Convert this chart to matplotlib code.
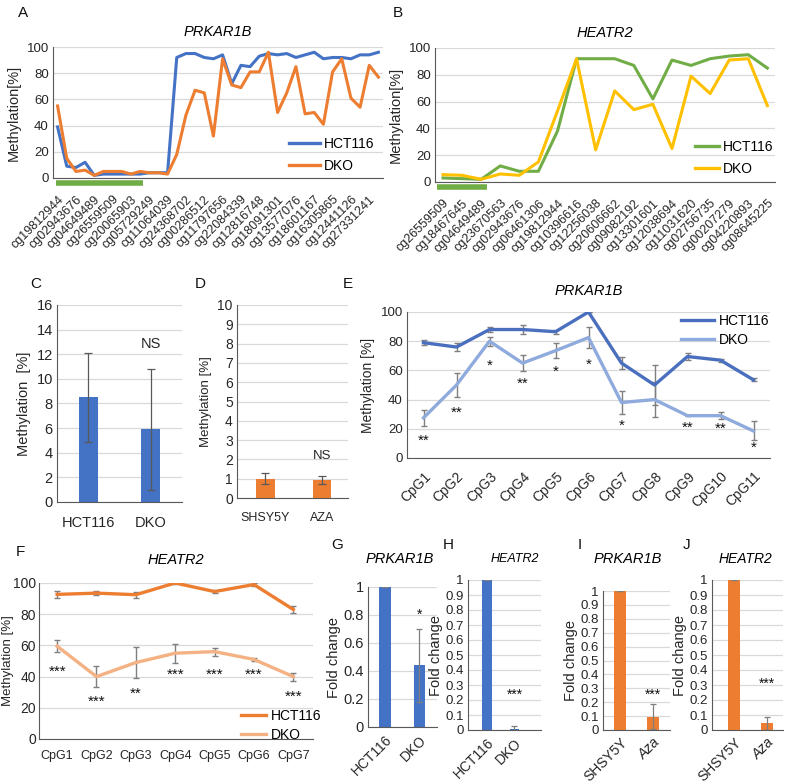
import matplotlib
matplotlib.use("Agg")
import matplotlib.pyplot as plt
from matplotlib.lines import Line2D

plt.rcParams['font.family'] = ['Liberation Sans', 'DejaVu Sans']

# ---- data ----
# A: PRKAR1B 450K probes
a_labels = ["cg19812944", "cg02943676", "cg04649489", "cg26559509", "cg20065903",
            "cg05729249", "cg11064039", "cg24368702", "cg00286512", "cg11797656",
            "cg22084339", "cg12816748", "cg18091301", "cg13577076", "cg18601167",
            "cg16305865", "cg12441126", "cg27331241"]
a_hct = [39, 9, 8, 12, 2, 3, 3, 3, 3, 3, 4, 4, 4, 92, 95, 95, 92, 91,
         94, 72, 86, 85, 93, 95, 94, 95, 92, 94, 96, 91, 92, 92, 91, 94, 94, 96]
a_dko = [55, 15, 5, 6, 2, 5, 5, 5, 3, 5, 4, 4, 3, 18, 48, 67, 65, 32,
         91, 71, 69, 81, 81, 96, 50, 65, 85, 49, 50, 41, 81, 91, 61, 54, 86, 77]

# B: HEATR2 450K probes
b_labels = ["cg26559509", "cg18467645", "cg04649489", "cg23670563", "cg02943676",
            "cg06461306", "cg19812944", "cg10396616", "cg12256038", "cg20606662",
            "cg09082192", "cg13301601", "cg12038694", "cg11031620", "cg02756735",
            "cg00207279", "cg04220893", "cg08645225"]
b_hct = [3, 2.5, 2, 12, 8, 8, 38, 92, 92, 92, 87, 62, 91, 87, 92, 94, 95, 85]
b_dko = [5.5, 5, 2, 6, 5, 15, 53, 92, 24, 68, 54, 58, 25, 79, 66, 91, 92, 57]

# C, D: bar charts
c_cats = ["HCT116", "DKO"]
c_vals = [8.5, 5.9]
c_err = [3.6, 4.9]
d_cats = ["SHSY5Y", "AZA"]
d_vals = [1.0, 0.95]
d_err = [0.3, 0.2]

# E: PRKAR1B CpGs
e_cats = ["CpG%d" % i for i in range(1, 12)]
e_hct = [79, 76, 88, 88, 86.5, 100, 65, 50, 69.5, 67, 53.5]
e_hct_err = [1.5, 3, 2, 3, 1.5, 0.3, 4, 14, 2.5, 1, 1]
e_dko = [27.5, 50, 80, 65, 73.5, 82.5, 38, 40, 29, 29, 18.5]
e_dko_err = [5.5, 8, 3, 5.5, 5, 7, 8, 12, 0.3, 2.5, 6.5]
e_stars = ["**", "**", "*", "**", "*", "*", "*", "", "**", "**", "*"]
e_star_y = [12, 31, 63, 51, 59, 64, 22, 0, 21, 20, 7]

# F: HEATR2 CpGs
f_cats = ["CpG%d" % i for i in range(1, 8)]
f_hct = [92.7, 93.5, 92.5, 100, 94.5, 99, 83]
f_hct_err = [2, 1.5, 2, 0.4, 1, 1, 2]
f_dko = [59.5, 40, 49, 55, 56, 51, 40]
f_dko_err = [4, 6.5, 10, 6, 2.5, 1, 2.5]
f_stars = ["***", "***", "**", "***", "***", "***", "***"]
f_star_y = [43, 24, 29, 41, 41, 41, 27]

# G-J: fold change
g_cats = ["HCT116", "DKO"]
g_vals = [1.0, 0.44]
g_err = [0.0, 0.26]
h_cats = ["HCT116", "DKO"]
h_vals = [1.0, 0.01]
h_err = [0.0, 0.015]
i_cats = ["SHSY5Y", "Aza"]
i_vals = [1.0, 0.095]
i_err = [0.0, 0.09]
j_cats = ["SHSY5Y", "Aza"]
j_vals = [1.0, 0.045]
j_err = [0.0, 0.045]

BLUE = "#4472C4"
LBLUE = "#8FAADC"
ORANGE = "#ED7D31"
LORANGE = "#F4B183"
GREEN = "#70AD47"
YELLOW = "#FFC000"
GRID = "#D9D9D9"
TXT = "#262626"

W, H = 787, 784
fig = plt.figure(figsize=(W / 100, H / 100), dpi=100)


def ax_px(l, t, r, b):
    return fig.add_axes([l / W, 1 - b / H, (r - l) / W, (b - t) / H])


def style(ax, fs=9):
    for s in ["top", "right"]:
        ax.spines[s].set_visible(False)
    ax.spines["left"].set_color("#595959")
    ax.spines["bottom"].set_color("#595959")
    ax.yaxis.grid(True, color=GRID, lw=0.9)
    ax.set_axisbelow(True)
    ax.tick_params(length=0, labelsize=fs, colors=TXT, pad=3)


def letter(x, y, s):
    fig.text(x / W, 1 - y / H, s, fontsize=11, va="top", ha="left", color="#111111")


def leg(ax, colors, labels, anchor, loc, hl=2.2, sp=0.6):
    hs = [Line2D([], [], color=c, lw=2.4) for c in colors]
    ax.legend(hs, labels, loc=loc, frameon=False, fontsize=10, handlelength=hl,
              bbox_to_anchor=anchor, labelspacing=sp, handletextpad=0.3,
              borderaxespad=0.2)


# ---- A ----
ax = ax_px(53, 47, 383, 178)
style(ax, 9.5)
xa = list(range(len(a_hct)))
ax.plot(xa, a_hct, color=BLUE, lw=2.2)
ax.plot(xa, a_dko, color=ORANGE, lw=2.2)
ax.set_xlim(-0.5, 35.5)
ax.set_ylim(0, 100)
ax.set_yticks(range(0, 101, 20))
ax.set_xticks(range(0, len(a_hct), 2))
ax.set_xticklabels(a_labels, rotation=45, ha="right", rotation_mode="anchor", fontsize=9)
ax.plot([-0.2, 9.3], [-4, -4], color=GREEN, lw=4, clip_on=False, solid_capstyle="butt")
ax.tick_params(axis="x", pad=11)
ax.set_ylabel("Methylation[%]", fontsize=10.5, color=TXT)
ax.set_title("PRKAR1B", fontsize=10.5, style="italic", pad=8)
leg(ax, [BLUE, ORANGE], ["HCT116", "DKO"], (1.0, -0.025), "lower right")
letter(18, 6, "A")

# ---- B ----
ax = ax_px(435, 48, 775, 182)
style(ax, 9.5)
xb = list(range(len(b_hct)))
ax.plot(xb, b_hct, color=GREEN, lw=2.2)
ax.plot(xb, b_dko, color=YELLOW, lw=2.2)
ax.set_xlim(-0.42, 17.4)
ax.set_ylim(0, 100)
ax.set_yticks(range(0, 101, 20))
ax.set_xticks(xb)
ax.set_xticklabels(b_labels, rotation=45, ha="right", rotation_mode="anchor", fontsize=9)
ax.plot([-0.3, 2.3], [-4, -4], color=GREEN, lw=4, clip_on=False, solid_capstyle="butt")
ax.tick_params(axis="x", pad=11)
ax.set_ylabel("Methylation[%]", fontsize=10.5, color=TXT)
ax.set_title("HEATR2", fontsize=10.5, style="italic", pad=8)
leg(ax, [GREEN, YELLOW], ["HCT116", "DKO"], (1.02, -0.02), "lower right", hl=1.7)
letter(393, 6, "B")

# ---- C ----
ax = ax_px(57, 305, 182, 502)
style(ax, 10.5)
ax.bar(range(2), c_vals, width=0.3, color=BLUE, yerr=c_err, capsize=3,
       error_kw=dict(ecolor="#595959", lw=0.9, capthick=0.9))
ax.set_xlim(-0.5, 1.5)
ax.set_ylim(0, 16)
ax.set_yticks(range(0, 17, 2))
ax.set_xticks(range(2))
ax.set_xticklabels(c_cats, fontsize=10.5)
ax.tick_params(axis="x", pad=10)
ax.set_ylabel("Methylation  [%]", fontsize=10.5, color=TXT)
ax.text(1, 12.3, "NS", ha="center", va="bottom", fontsize=10.5, color=TXT)
letter(30, 277, "C")

# ---- D ----
ax = ax_px(237, 305, 348, 498)
style(ax, 10)
ax.bar(range(2), d_vals, width=0.33, color=ORANGE, yerr=d_err, capsize=3,
       error_kw=dict(ecolor="#595959", lw=0.9, capthick=0.9))
ax.set_xlim(-0.5, 1.46)
ax.set_ylim(0, 10)
ax.set_yticks(range(0, 11))
ax.set_xticks(range(2))
ax.set_xticklabels(d_cats, fontsize=9)
ax.tick_params(axis="x", pad=10)
ax.set_ylabel("Methylation [%]", fontsize=9.5, color=TXT)
ax.text(1, 1.85, "NS", ha="center", va="bottom", fontsize=9.5, color=TXT)
letter(195, 277, "D")

# ---- E ----
ax = ax_px(407, 312, 770, 458)
style(ax, 9.5)
xe = list(range(len(e_cats)))
ax.errorbar(xe, e_hct, yerr=e_hct_err, color="#4A6FBE", lw=2.4, ecolor="#7F7F7F",
            elinewidth=1, capsize=2.5)
ax.errorbar(xe, e_dko, yerr=e_dko_err, color=LBLUE, lw=2.4, ecolor="#7F7F7F",
            elinewidth=1, capsize=2.5)
for x, s, y in zip(xe, e_stars, e_star_y):
    if s:
        ax.text(x, y, s, ha="center", va="center", fontsize=11, color="#111111")
ax.set_xlim(-0.5, 10.5)
ax.set_ylim(0, 100)
ax.set_yticks(range(0, 101, 20))
ax.set_xticks(xe)
ax.set_xticklabels(e_cats, rotation=45, ha="right", rotation_mode="anchor", fontsize=10)
ax.tick_params(axis="x", pad=8)
ax.set_ylabel("Methylation [%]", fontsize=10, color=TXT)
ax.set_title("PRKAR1B", fontsize=10.5, style="italic", pad=12)
leg(ax, ["#4A6FBE", LBLUE], ["HCT116", "DKO"], (1.02, 1.045), "upper right", hl=2.4, sp=0.35)
letter(343, 277, "E")

# ---- F ----
ax = ax_px(39, 583, 313, 739)
style(ax, 10)
ax.tick_params(axis="y", pad=2)
xf = list(range(len(f_cats)))
ax.errorbar(xf, f_hct, yerr=f_hct_err, color=ORANGE, lw=2.4, ecolor="#7F7F7F",
            elinewidth=1, capsize=2.5)
ax.errorbar(xf, f_dko, yerr=f_dko_err, color=LORANGE, lw=2.4, ecolor="#7F7F7F",
            elinewidth=1, capsize=2.5)
for x, s, y in zip(xf, f_stars, f_star_y):
    ax.text(x, y, s, ha="center", va="center", fontsize=11, color="#111111")
ax.set_xlim(-0.46, 6.5)
ax.set_ylim(0, 100)
ax.set_yticks(range(0, 101, 20))
ax.set_xticks(xf)
ax.set_xticklabels(f_cats, fontsize=9)
ax.tick_params(axis="x", pad=8)
ax.set_ylabel("Methylation [%]", fontsize=9.5, color=TXT)
ax.yaxis.set_label_coords(-0.09, 0.5)
ax.set_title("HEATR2", fontsize=10.5, style="italic", pad=14)
leg(ax, [ORANGE, LORANGE], ["HCT116", "DKO"], (1.06, -0.07), "lower right", hl=1.8, sp=0.35)
letter(16, 545, "F")


# ---- G-J ----
def fold(box, cats, vals, err, color, xlim, ticks, title, tfs, star, sy, italic_last,
         lx, let, tx, lfs):
    ax = ax_px(*box)
    style(ax, lfs)
    ax.bar(range(2), vals, width=0.33 if len(ticks) < 7 else 0.36, color=color,
           yerr=err, capsize=2.5,
           error_kw=dict(ecolor="#7F7F7F", lw=0.9, capthick=0.9))
    ax.set_xlim(*xlim)
    ax.set_ylim(0, 1)
    ax.set_yticks(ticks)
    ax.set_yticklabels(["%g" % t for t in ticks])
    ax.set_xticks(range(2))
    labs = ax.set_xticklabels(cats, rotation=45, ha="right", rotation_mode="anchor",
                              fontsize=10)
    if italic_last:
        labs[1].set_style("italic")
    ax.tick_params(axis="x", pad=4)
    ax.set_ylabel("Fold change", fontsize=10.5, color=TXT, labelpad=2)
    ax.text(1, sy, star, ha="center", va="bottom", fontsize=10, color="#111111")
    fig.text(tx / W, 1 - 559 / H, title, fontsize=tfs, style="italic",
             ha="center", va="center")
    letter(lx, 538, let)


ticks02 = [0, 0.2, 0.4, 0.6, 0.8, 1]
ticks01 = [round(0.1 * k, 1) for k in range(11)]
fold((368, 587, 437, 727), g_cats, g_vals, g_err, BLUE, (-0.5, 1.52), ticks02,
     "PRKAR1B", 10.5, "*", 0.75, False, 331, "G", 400, 10.5)
fold((468, 580, 541, 730), h_cats, h_vals, h_err, BLUE, (-0.7, 1.97), ticks01,
     "HEATR2", 9, "***", 0.19, False, 443, "H", 515, 9.5)
fold((603, 591, 670, 730), i_cats, i_vals, i_err, ORANGE, (-0.53, 1.52), ticks01,
     "PRKAR1B", 10.5, "***", 0.2, True, 578, "I", 628, 9.5)
fold((712, 580, 783, 730), j_cats, j_vals, j_err, ORANGE, (-0.67, 1.48), ticks01,
     "HEATR2", 10, "***", 0.26, True, 683, "J", 745, 9.5)

fig.savefig("out.png", dpi=100)
